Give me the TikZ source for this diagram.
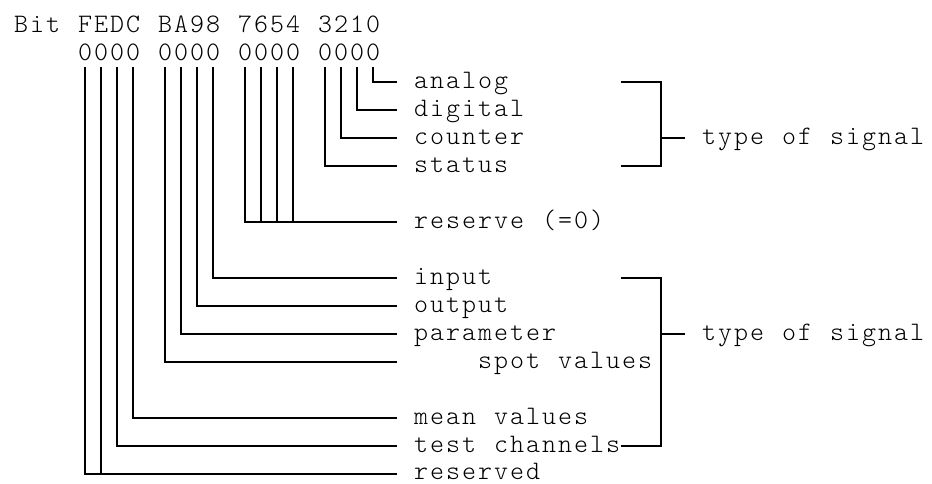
\documentclass[tikz,border=0pt]{standalone}
\usepackage{fontspec}
\newfontfamily\monofnt{lmmonolt10-regular.otf}[LetterSpace=7.5]
\begin{document}
\begin{tikzpicture}[x=1pt,y=-1pt,
  lbl/.style={anchor=base west,inner sep=0pt,font=\monofnt\fontsize{26.67pt}{28pt}\selectfont},
  wire/.style={line width=1.5pt,line join=miter}]
\useasboundingbox (0,0) rectangle (932,483);
% texts (one node per word, placed on a 16pt character grid; x = 14 + 16*column)
\node[lbl] (hbit) at (14,32) {Bit};
\node[lbl] (hF) at (78,32) {FEDC};
\node[lbl] (hB) at (158,32) {BA98};
\node[lbl] (h7) at (238,32) {7654};
\node[lbl] (h3) at (318,32) {3210};
\node[lbl] (zF) at (78,60) {0000};
\node[lbl] (zB) at (158,60) {0000};
\node[lbl] (z7) at (238,60) {0000};
\node[lbl] (z3) at (318,60) {0000};
\node[lbl] (analog) at (414,88) {analog};
\node[lbl] (digital) at (414,116) {digital};
\node[lbl] (counter) at (414,144) {counter};
\node[lbl] (status) at (414,172) {status};
\node[lbl] (reserve) at (414,228) {reserve};
\node[lbl] (reserveb) at (542,228) {(=0)};
\node[lbl] (input) at (414,284) {input};
\node[lbl] (output) at (414,312) {output};
\node[lbl] (parameter) at (414,340) {parameter};
\node[lbl] (spot) at (478,368) {spot};
\node[lbl] (spotb) at (558,368) {values};
\node[lbl] (mean) at (414,424) {mean};
\node[lbl] (meanb) at (494,424) {values};
\node[lbl] (test) at (414,452) {test};
\node[lbl] (testb) at (494,452) {channels};
\node[lbl] (reserved) at (414,479) {reserved};
\node[lbl] (typeA) at (702,144) {type};
\node[lbl] (ofA) at (782,144) {of};
\node[lbl] (signalA) at (830,144) {signal};
\node[lbl] (typeB) at (702,340) {type};
\node[lbl] (ofB) at (782,340) {of};
\node[lbl] (signalB) at (830,340) {signal};
% bit column tops
\foreach \b/\x in {15/85,14/101,13/117,12/133,11/165,10/181,9/197,8/213,7/245,6/261,5/277,4/293,3/325,2/341,1/357,0/373}
  \coordinate (b\b) at (\x,67);
% line ends
\foreach \r/\y in {2/82,3/110,4/138,5/166,7/222,9/278,10/306,11/334,12/362,14/418,15/446,16/474}
  \coordinate (e\r) at (397,\y);
% bracket points
\coordinate (k1t) at (621,82);
\coordinate (k1b) at (621,166);
\coordinate (k1m) at (685,138);
\coordinate (k2t) at (621,278);
\coordinate (k2b) at (621,446);
\coordinate (k2m) at (685,334);
% connectors
\draw[wire] (b0) |- (e2);
\draw[wire] (b1) |- (e3);
\draw[wire] (b2) |- (e4);
\draw[wire] (b3) |- (e5);
\draw[wire] (b7) |- (e7);
\draw[wire] (b6) -- (b6 |- e7);
\draw[wire] (b5) -- (b5 |- e7);
\draw[wire] (b4) -- (b4 |- e7);
\draw[wire] (b8) |- (e9);
\draw[wire] (b9) |- (e10);
\draw[wire] (b10) |- (e11);
\draw[wire] (b11) |- (e12);
\draw[wire] (b12) |- (e14);
\draw[wire] (b13) |- (e15);
\draw[wire] (b15) |- (e16);
\draw[wire] (b14) -- (b14 |- e16);
% brackets
\draw[wire] (k1t) -- ++(40,0) |- (k1b);
\draw[wire] (k1m) -- ++(-24,0);
\draw[wire] (k2t) -- ++(40,0) |- (k2b);
\draw[wire] (k2m) -- ++(-24,0);
\end{tikzpicture}
\end{document}
